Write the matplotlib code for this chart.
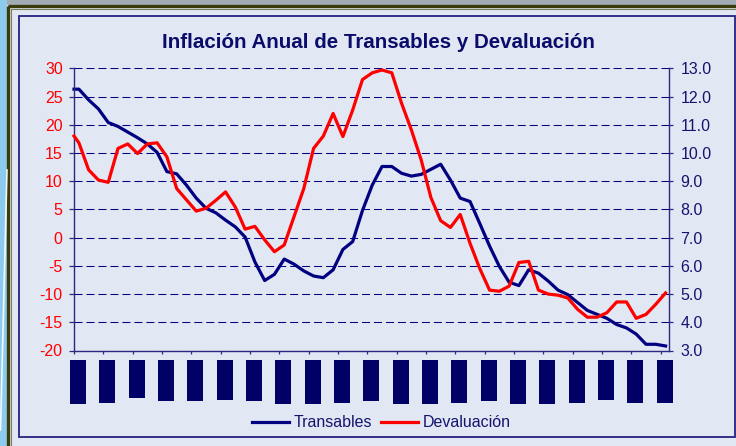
import matplotlib
matplotlib.use("Agg")
import matplotlib.pyplot as plt
import matplotlib.transforms as mtransforms
from matplotlib.patches import Rectangle
from matplotlib.ticker import FormatStrFormatter
import numpy as np

plt.rcParams['font.family'] = ['Liberation Sans', 'DejaVu Sans']
plt.rcParams['axes.unicode_minus'] = False

# months since start of the series (values read at odd months, plus the first one)
months = [0] + list(range(1, 122, 2))

# annual tradables inflation (%), right axis
transables = [12.26, 12.26, 11.88, 11.56, 11.08, 10.94, 10.74, 10.54, 10.32, 10.02,
              9.34, 9.26, 8.86, 8.40, 8.04, 7.88, 7.62, 7.38, 7.02, 6.14,
              5.48, 5.70, 6.24, 6.06, 5.82, 5.64, 5.58, 5.86, 6.58, 6.86,
              7.96, 8.86, 9.52, 9.52, 9.28, 9.18, 9.24, 9.42, 9.60, 9.04,
              8.40, 8.28, 7.50, 6.70, 5.98, 5.42, 5.30, 5.86, 5.74, 5.46,
              5.14, 4.98, 4.70, 4.42, 4.28, 4.14, 3.92, 3.80, 3.58, 3.22,
              3.22, 3.16]

# annual devaluation (%), left axis
devaluacion = [18.0, 16.8, 12.0, 10.2, 9.8, 15.8, 16.6, 14.9, 16.6, 16.8,
               14.3, 8.7, 6.7, 4.7, 5.2, 6.6, 8.1, 5.4, 1.5, 2.0,
               -0.4, -2.5, -1.3, 3.7, 8.7, 15.8, 18.0, 22.0, 17.9, 22.6,
               28.0, 29.2, 29.7, 29.2, 23.8, 19.1, 13.8, 7.1, 3.0, 1.8,
               4.1, -1.0, -5.5, -9.3, -9.5, -8.6, -4.4, -4.2, -9.3, -10.0,
               -10.2, -10.7, -12.7, -14.1, -14.1, -13.3, -11.4, -11.4, -14.3, -13.6,
               -11.8, -9.8]

left_ticks = list(range(-20, 31, 5))
right_ticks = [3.0, 4.0, 5.0, 6.0, 7.0, 8.0, 9.0, 10.0, 11.0, 12.0, 13.0]
x_ticks = list(range(0, 121, 6))
# hidden (blacked out) date labels: length of each in pixels
label_len = [44, 43, 38, 41, 41, 40, 41, 44, 44, 43, 41,
             44, 44, 43, 41, 44, 44, 43, 40, 43, 43]

navy = '#000080'
red = '#ff0000'
txt_navy = '#14146e'
axis_col = '#2a2a80'

W, H = 736, 446
fig = plt.figure(figsize=(W / 100, H / 100), dpi=100)
fig.patch.set_facecolor('#e1e7f3')

# slide decoration drawn in pixel coordinates
bg = fig.add_axes([0, 0, 1, 1])
bg.set_xlim(0, W)
bg.set_ylim(H, 0)
bg.axis('off')
bg.add_patch(Rectangle((0, 0), 7, H, color='#8ccbee', lw=0))
bg.plot([0.5, 7], [430, 170], color='white', lw=1.2, alpha=0.9)
bg.add_patch(Rectangle((7, 0), W, 4.5, color='#a3acb4', lw=0))
bg.add_patch(Rectangle((7.8, 5.8), W + 20, H - 1.5, fill=False, ec='#3b3b0c', lw=2.4))
bg.add_patch(Rectangle((11, 9), W + 20, H - 8, fill=False, ec='#7c7c5a', lw=0.8))
bg.add_patch(Rectangle((19, 15.5), W - 19.8, 421, fill=False, ec='#23237e', lw=1.3))

ax = fig.add_axes([74 / W, 1 - 350.5 / H, (669 - 74) / W, (350.5 - 68.3) / H])
ax.patch.set_alpha(0)
ax2 = ax.twinx()

# host axes: Transables on the right-hand scale
ax.set_xlim(0, 121.7)
ax.set_ylim(3, 13)
ax.yaxis.tick_right()
ax.set_yticks(right_ticks)
ax.yaxis.set_major_formatter(FormatStrFormatter('%.1f'))
ax.set_xticks(x_ticks)
ax.set_xticklabels([])
ax.grid(axis='y', color=navy, lw=0.75, ls=(0, (7.7, 3.8)))
ax.set_axisbelow(True)
ax.tick_params(axis='y', direction='out', length=2.8, width=0.9, color=axis_col,
               labelcolor=txt_navy, labelsize=11.5, pad=5.5)
ax.tick_params(axis='x', direction='out', length=2.5, width=0.9, color=axis_col)
for s in ['left', 'right', 'bottom']:
    ax.spines[s].set_color(axis_col)
    ax.spines[s].set_linewidth(1.0)
ax.spines['top'].set_visible(False)

l1, = ax.plot(months, transables, color=navy, lw=2.3, label='Transables',
              solid_joinstyle='round', clip_on=False)

# twin axes: Devaluación on the left-hand scale, drawn on top
ax2.yaxis.tick_left()
ax2.set_ylim(-20, 30)
ax2.set_yticks(left_ticks)
ax2.tick_params(axis='y', direction='out', length=3.6, width=0.9, color=axis_col,
                labelcolor=red, labelsize=11.5, pad=4.5)
for s in ax2.spines.values():
    s.set_visible(False)
l2, = ax2.plot(months, devaluacion, color=red, lw=2.3, label='Devaluación',
               solid_joinstyle='round', clip_on=False)

# blacked-out date labels under the axis
trans = mtransforms.blended_transform_factory(ax.transData, fig.transFigure)
for xt, ln in zip(x_ticks, label_len):
    ax.add_patch(Rectangle((xt + 0.8 - 1.63, 1 - (360 + ln) / H), 3.27, ln / H,
                           transform=trans, color='#000066', lw=0, clip_on=False))

fig.text(0.514, 0.904, 'Inflación Anual de Transables y Devaluación',
         ha='center', va='center', fontsize=14.8, fontweight='bold', color='#0b0b6b')

fig.legend([l1, l2], ['Transables', 'Devaluación'], loc='center',
           bbox_to_anchor=(0.518, 0.0516), ncol=2, frameon=False, fontsize=11.5,
           handlelength=2.3, handletextpad=0.3, columnspacing=0.55, labelcolor=txt_navy)

fig.savefig('out.png', dpi=100, facecolor=fig.get_facecolor())
